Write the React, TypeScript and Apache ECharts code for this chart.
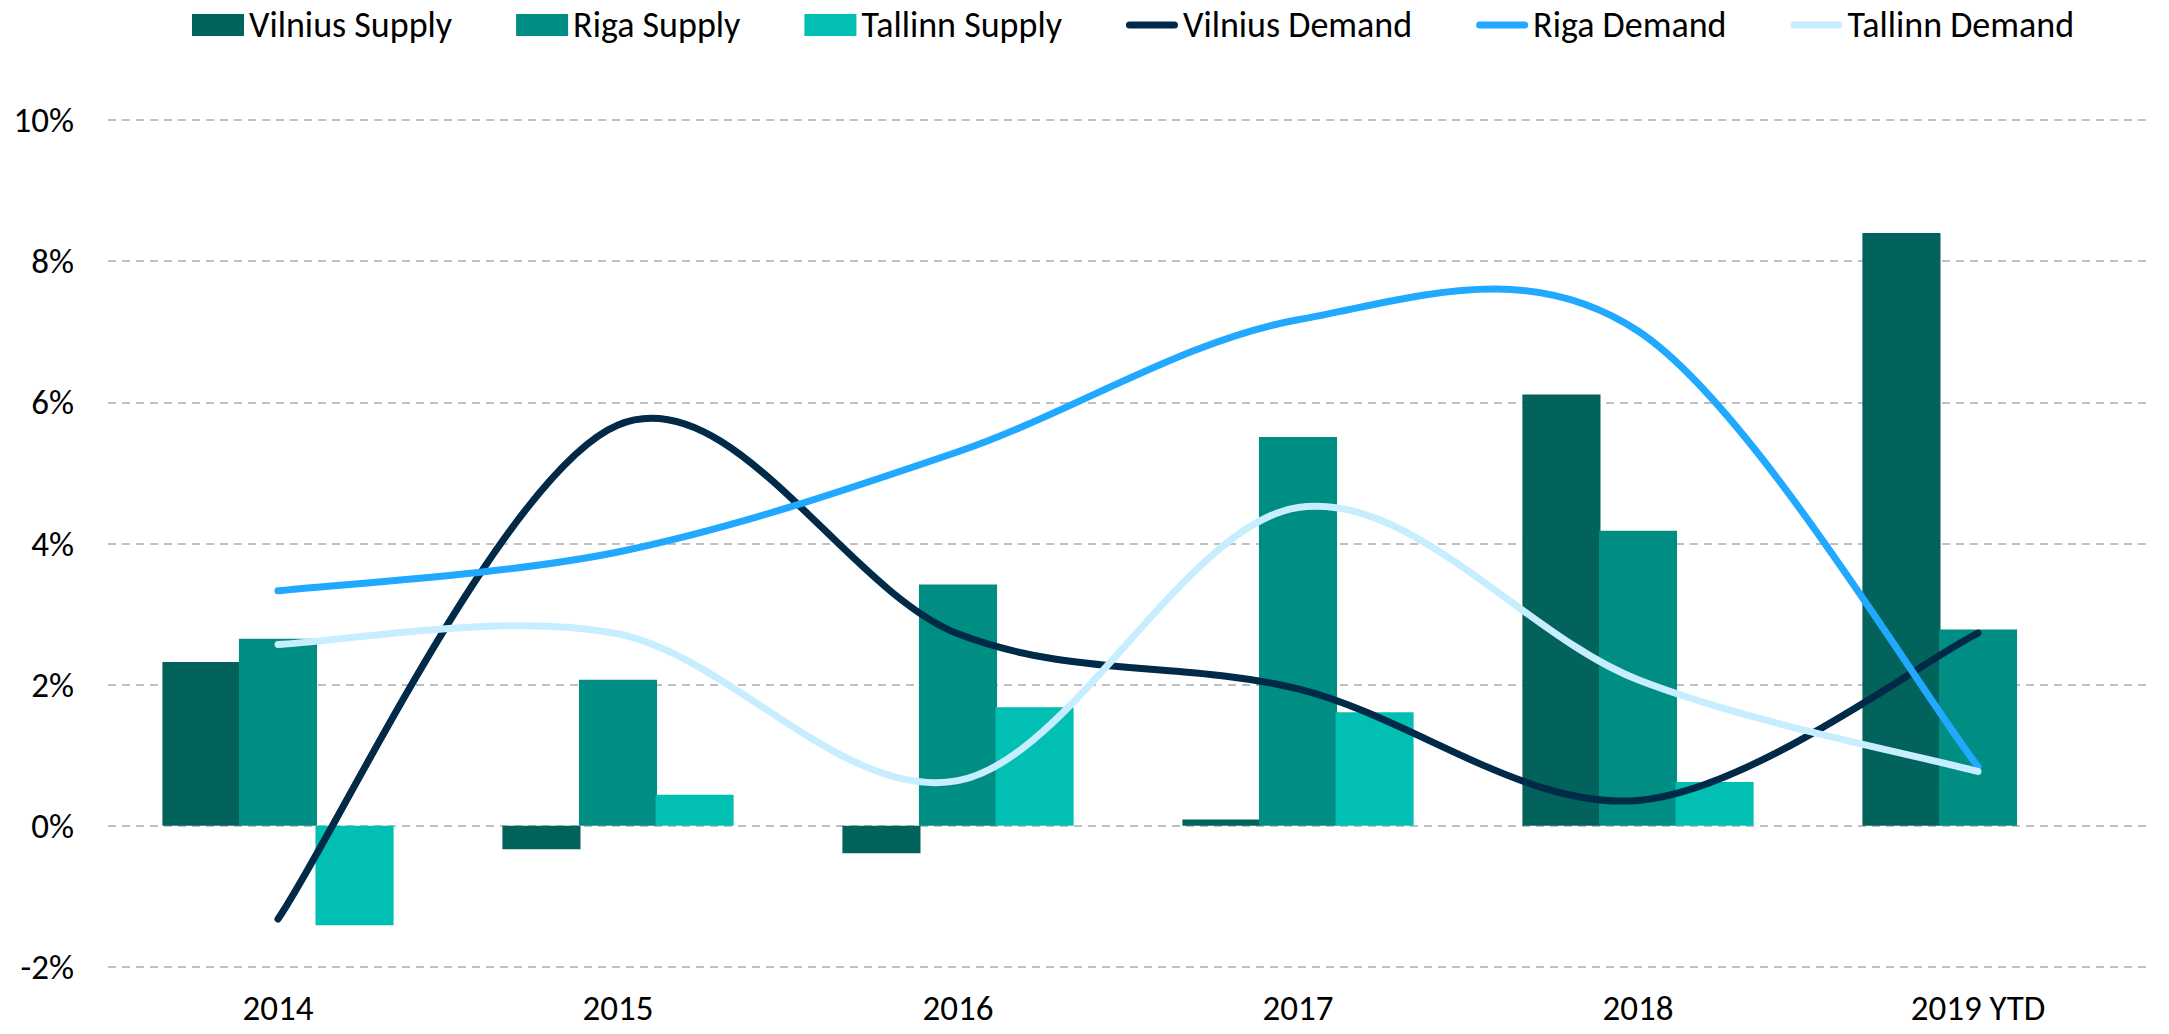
import React, { useEffect, useRef } from "react";
import * as echarts from "echarts";

const categories = ["2014", "2015", "2016", "2017", "2018", "2019 YTD"];
const vilniusSupply = [2.32, -0.33, -0.39, 0.09, 6.11, 8.4];
const rigaSupply = [2.65, 2.07, 3.42, 5.51, 4.18, 2.78];
const tallinnSupply: (number | null)[] = [-1.41, 0.44, 1.68, 1.61, 0.62, null];
const vilniusDemand = [-1.32, 5.68, 2.72, 1.94, 0.36, 2.73];
const rigaDemand = [3.33, 3.88, 5.3, 7.17, 7.01, 0.84];
const tallinnDemand = [2.57, 2.72, 0.64, 4.51, 2.07, 0.77];
const yTicks = { min: -2, max: 10, interval: 2 };

const FONT = "Carlito, Calibri, Lato, sans-serif";
const LINE_ICON = "path://M3.5,0 L48.5,0 A3.5,3.5 0 0 1 48.5,7 L3.5,7 A3.5,3.5 0 0 1 3.5,0 Z";

// Catmull-Rom style smoothing (like a spreadsheet's smoothed line), built from axis coords
function smoothPath(pts: number[][]): string {
  let d = `M${pts[0][0]},${pts[0][1]}`;
  for (let i = 0; i < pts.length - 1; i++) {
    const p0 = pts[Math.max(0, i - 1)];
    const p1 = pts[i];
    const p2 = pts[i + 1];
    const p3 = pts[Math.min(pts.length - 1, i + 2)];
    const c1x = p1[0] + (p2[0] - p0[0]) / 6;
    const c1y = p1[1] + (p2[1] - p0[1]) / 6;
    const c2x = p2[0] - (p3[0] - p1[0]) / 6;
    const c2y = p2[1] - (p3[1] - p1[1]) / 6;
    d += ` C${c1x},${c1y} ${c2x},${c2y} ${p2[0]},${p2[1]}`;
  }
  return d;
}

export default function App() {
  const ref = useRef<HTMLDivElement>(null);
  useEffect(() => {
    if (!ref.current) return;
    const chart = echarts.init(ref.current, undefined, { renderer: "svg" });
    const barS = (name: string, data: (number | null)[], color: string) => ({
      name,
      type: "bar",
      data,
      barCategoryGap: "32%",
      barGap: "-2%",
      itemStyle: { color },
      z: 2,
    });
    const lineS = (name: string, values: number[], color: string) => ({
      name,
      type: "custom",
      data: values.map((v, i) => [i, v]),
      encode: { x: 0, y: 1 },
      itemStyle: { color },
      z: 3,
      renderItem: (params: any, api: any) => {
        if (params.dataIndexInside !== 0) return null;
        const pts = values.map((v, i) => api.coord([i, v]));
        return {
          type: "path",
          shape: { pathData: smoothPath(pts) },
          style: {
            stroke: color,
            lineWidth: 7,
            fill: "none",
            lineCap: "round",
            lineJoin: "round",
          },
        };
      },
    });
    chart.setOption({
      animation: false,
      textStyle: { fontFamily: FONT },
      legend: {
        top: 2,
        left: 187,
        itemWidth: 52,
        itemHeight: 22,
        itemGap: 64,
        textStyle: { fontFamily: FONT, fontSize: 36, color: "#000" },
        data: [
          { name: "Vilnius Supply", icon: "rect" },
          { name: "Riga Supply", icon: "rect" },
          { name: "Tallinn Supply", icon: "rect" },
          { name: "Vilnius Demand", icon: LINE_ICON },
          { name: "Riga Demand", icon: LINE_ICON },
          { name: "Tallinn Demand", icon: LINE_ICON },
        ],
      },
      grid: { left: 108, right: 21, top: 120, bottom: 67, containLabel: false },
      xAxis: {
        type: "category",
        data: categories,
        axisLine: { show: false },
        axisTick: { show: false },
        axisLabel: {
          fontFamily: FONT,
          fontSize: 35,
          lineHeight: 34,
          color: "#000",
          margin: 24,
        },
      },
      yAxis: {
        type: "value",
        min: yTicks.min,
        max: yTicks.max,
        interval: yTicks.interval,
        axisLine: { show: false },
        axisTick: { show: false },
        axisLabel: {
          fontFamily: FONT,
          fontSize: 35,
          color: "#000",
          margin: 34,
          formatter: (v: number) => `${v}%`,
        },
        splitLine: {
          lineStyle: { color: "#BFBFBF", width: 2, type: [8, 6] },
        },
      },
      series: [
        barS("Vilnius Supply", vilniusSupply, "#02635C"),
        barS("Riga Supply", rigaSupply, "#008E84"),
        barS("Tallinn Supply", tallinnSupply, "#02BFB3"),
        lineS("Vilnius Demand", vilniusDemand, "#002A47"),
        lineS("Riga Demand", rigaDemand, "#21A9FF"),
        lineS("Tallinn Demand", tallinnDemand, "#C6EEFF"),
      ],
    });
    return () => chart.dispose();
  }, []);
  return (
    <div
      ref={ref}
      style={{ position: "fixed", left: 0, top: 0, width: 2169, height: 1034, background: "#fff" }}
    />
  );
}
